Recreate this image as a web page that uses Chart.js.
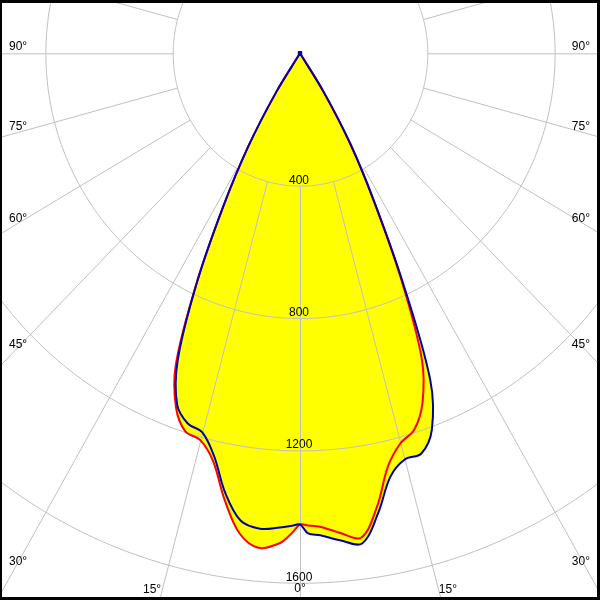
<!DOCTYPE html>
<html>
<head>
<meta charset="utf-8">
<script src="https://cdn.jsdelivr.net/npm/chart.js@4.4.1/dist/chart.umd.min.js"></script>
<style>
  html, body { margin: 0; padding: 0; background: #fff; }
  #polar { display: block; }
</style>
</head>
<body>
<canvas id="polar" width="600" height="600"></canvas>
<script>
// gamma angles (deg from nadir), intensities in cd
const gammaAngles = [0, 1, 2.5, 5, 7.5, 10, 12.5, 15, 17.5, 20, 22.5, 25, 27.5, 30, 32.5, 35]
const redLeft   = [1424, 1450, 1482, 1500, 1462, 1368, 1262, 1210, 1198, 1139, 1020, 775, 520, 325, 140, 0]
const redRight  = [1424, 1427, 1432, 1455, 1476, 1392, 1278, 1220, 1193, 1125, 1000, 750, 500, 315, 135, 0]
const blueLeft  = [1424, 1428, 1434, 1442, 1425, 1350, 1247, 1186, 1173, 1129, 1004, 770, 525, 325, 140, 0]
const blueRight = [1424, 1451, 1458, 1478, 1494, 1412, 1311, 1271, 1268, 1211, 1070, 765, 505, 320, 140, 0]

const ringValues = [400, 800, 1200, 1600]
const spokeStep = 15
const sideLabels = [90, 75, 60, 45, 30, 15]

const rad = a => a * Math.PI / 180

function polar(angle, value, side){
    return {x: side * value * Math.sin(rad(angle)), y: -value * Math.cos(rad(angle))}
}

function curvePoints(left, right){
    const pts = []
    for (let i = gammaAngles.length - 1; i >= 0; i--)
        pts.push(polar(gammaAngles[i], left[i], -1))
    for (let i = 1; i < gammaAngles.length; i++)
        pts.push(polar(gammaAngles[i], right[i], 1))
    return pts
}

const gridPlugin = {
    id: 'polarGrid',
    beforeDatasetsDraw(chart){
        const ctx = chart.ctx
        const sx = chart.scales.x, sy = chart.scales.y
        const toPx = (a, r) => [sx.getPixelForValue(r * Math.sin(rad(a))), sy.getPixelForValue(-r * Math.cos(rad(a)))]
        const x0 = sx.getPixelForValue(0), y0 = sy.getPixelForValue(0)

        ctx.save()
        ctx.translate(0.5, 0.5)
        ctx.strokeStyle = '#c0c0c0'
        ctx.lineWidth = 1
        ringValues.forEach(r => {
            ctx.beginPath()
            for (let a = 0; a <= 360; a += 1){
                const [px, py] = toPx(a, r)
                if (a === 0) ctx.moveTo(px, py)
                else ctx.lineTo(px, py)
            }
            ctx.stroke()
        })
        for (let a = 0; a < 360; a += spokeStep){
            const [ax, ay] = toPx(a, ringValues[0])
            const [bx, by] = toPx(a, 5000)
            ctx.beginPath()
            ctx.moveTo(ax, ay)
            ctx.lineTo(bx, by)
            ctx.stroke()
        }
        ctx.restore()

        ctx.save()
        ctx.fillStyle = '#000'
        ctx.font = '12px "Liberation Sans", Arial, sans-serif'
        ctx.textAlign = 'center'
        ctx.textBaseline = 'alphabetic'
        ringValues.forEach(r => {
            const [px, py] = toPx(0, r)
            ctx.fillText(String(r), px - 1, py - 2)
        })

        // angle labels where the spokes reach the frame
        const W = chart.width, H = chart.height
        const inset = 14, bottom = H - 8
        const kx = Math.abs(sx.getPixelForValue(1) - x0)
        const ky = Math.abs(sy.getPixelForValue(-1) - y0)
        const drawLabel = (a, side) => {
            const dx = Math.sin(rad(a)) * kx, dy = Math.cos(rad(a)) * ky
            const tSide = dx > 1e-9 ? (x0 - inset) / dx : Infinity
            const tBottom = dy > 1e-9 ? (bottom - y0) / dy : Infinity
            const txt = a + '°'
            if (tSide <= tBottom){
                const y = y0 + dy * tSide - 3
                ctx.textAlign = side < 0 ? 'left' : 'right'
                ctx.fillText(txt, side < 0 ? 9 : W - 10, y)
            } else {
                const x = x0 + side * dx * tBottom
                ctx.textAlign = side < 0 ? 'right' : 'left'
                ctx.fillText(txt, x, H - 7)
            }
        }
        sideLabels.forEach(a => { drawLabel(a, -1); drawLabel(a, 1) })
        ctx.textAlign = 'center'
        ctx.fillText('0°', x0, H - 8)
        ctx.restore()
    },
    afterDraw(chart){
        const ctx = chart.ctx
        const W = chart.width, H = chart.height
        ctx.save()
        ctx.fillStyle = '#000'
        ctx.fillRect(0, 0, W, 3)
        ctx.fillRect(0, H - 3, W, 3)
        ctx.fillRect(0, 0, 2, H)
        ctx.fillRect(W - 3, 0, 3, H)
        ctx.restore()
    }
}

const config = {
    type: 'scatter',
    data: {
        datasets: [{
            label: 'C0 - C180',
            data: curvePoints(redLeft, redRight),
            showLine: true,
            tension: 0.35,
            borderColor: '#ff0000',
            borderWidth: 2,
            backgroundColor: '#ffff00',
            fill: 'shape',
            pointRadius: 0,
            order: 1
        }, {
            label: 'C90 - C270',
            data: curvePoints(blueLeft, blueRight),
            showLine: true,
            tension: 0.35,
            borderColor: '#0000b0',
            borderWidth: 2,
            backgroundColor: '#ffff00',
            fill: 'shape',
            pointStyle: 'rect',
            pointRadius: ctx => (ctx.raw && ctx.raw.x === 0 && ctx.raw.y === 0) ? 3 : 0,
            pointBackgroundColor: '#0000b0',
            pointBorderWidth: 0,
            order: 0
        }]
    },
    options: {
        responsive: false,
        animation: false,
        layout: {padding: 0},
        scales: {
            x: {type: 'linear', display: false, min: -930, max: 930},
            y: {type: 'linear', display: false, min: -1640, max: 149}
        },
        plugins: {
            legend: {display: false},
            tooltip: {enabled: false},
            filler: {drawTime: 'beforeDatasetsDraw'}
        }
    },
    plugins: [gridPlugin]
}

const chart = new Chart(document.querySelector('#polar'), config)
</script>
</body>
</html>
